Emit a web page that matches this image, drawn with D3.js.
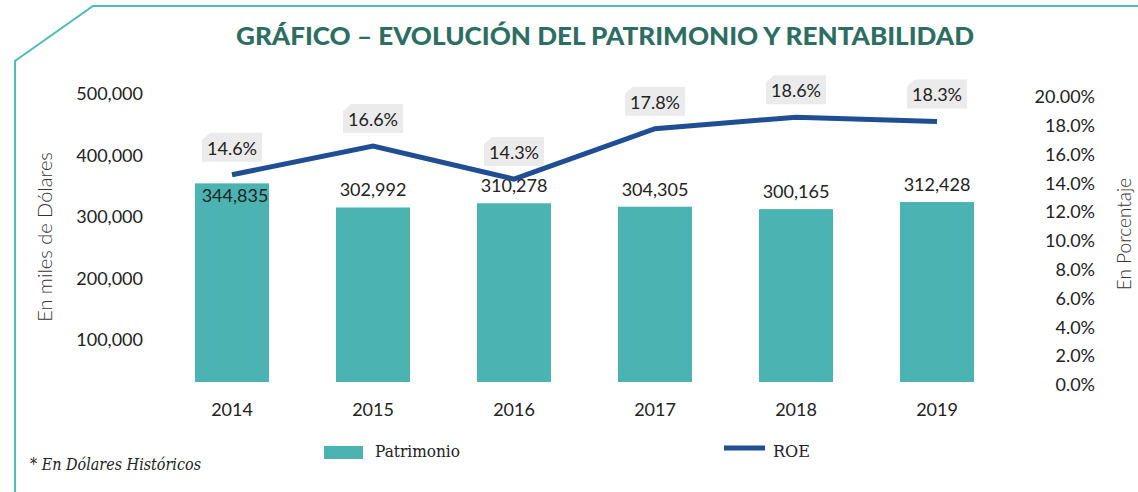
<!DOCTYPE html>
<html>
<head>
<meta charset="utf-8">
<script src="https://cdn.jsdelivr.net/npm/d3@7"></script>
<style>
  body { margin: 0; background: #fff; }
  svg { display: block; }
  .tick text { font-family: Lato, sans-serif; font-size: 18px; fill: #222; }
</style>
</head>
<body>
<div id="chart"></div>
<script>
// data
var years = ["2014", "2015", "2016", "2017", "2018", "2019"];
var patrimonio = [344835, 302992, 310278, 304305, 300165, 312428];
var roe = [0.146, 0.166, 0.143, 0.178, 0.186, 0.183];
var leftTicks = [100000, 200000, 300000, 400000, 500000];
var rightTicks = [0, 0.02, 0.04, 0.06, 0.08, 0.10, 0.12, 0.14, 0.16, 0.18, 0.20];

var width = 1138, height = 492;
var teal = "#4bb4b3", navy = "#1f4e93", titleColor = "#2d6e63";

var svg = d3.select("#chart")
  .append("svg")
  .attr("width", width)
  .attr("height", height);

// frame with the cut corner
svg.append("path")
  .attr("d", "M15,492 L15,61 L93,6 L1138,6")
  .attr("fill", "none")
  .attr("stroke", "#4dbdba")
  .attr("stroke-width", 2);

// title
svg.append("text")
  .attr("x", 605)
  .attr("y", 45)
  .attr("text-anchor", "middle")
  .attr("textLength", 738)
  .attr("lengthAdjust", "spacingAndGlyphs")
  .style("font-family", "Lato, sans-serif")
  .style("font-weight", 900)
  .style("font-size", "25px")
  .style("fill", titleColor)
  .text("GRÁFICO – EVOLUCIÓN DEL PATRIMONIO Y RENTABILIDAD");

// ---------------------------//
//       AXIS  AND SCALE      //
// ---------------------------//
var x = d3.scaleBand()
  .domain(years)
  .range([161.5, 1007.5])
  .paddingInner(0.475)
  .paddingOuter(0.2375);

var y = d3.scaleLinear()
  .domain([0, 500000])
  .range([382, 94]);

// the left labels in the original are spread a bit wider than the bars
var yLabels = d3.scaleLinear()
  .domain([0, 500000])
  .range([401.5, 94]);

var y2 = d3.scaleLinear()
  .domain([0, 0.20])
  .range([385, 97]);

var leftAxis = svg.append("g")
  .attr("transform", "translate(152,0)")
  .call(d3.axisLeft(yLabels).tickValues(leftTicks).tickSize(0).tickPadding(9)
    .tickFormat(d3.format(",")));
leftAxis.select(".domain").remove();

var rightAxis = svg.append("g")
  .attr("transform", "translate(1104,0)")
  .call(d3.axisLeft(y2).tickValues(rightTicks).tickSize(0).tickPadding(9)
    .tickFormat(function(d) { return d >= 0.2 ? "20.00%" : d3.format(".1%")(d); }));
rightAxis.select(".domain").remove();

var bottomAxis = svg.append("g")
  .attr("transform", "translate(0,403)")
  .call(d3.axisBottom(x).tickSize(0).tickPadding(0));
bottomAxis.select(".domain").remove();
bottomAxis.selectAll("text").attr("dy", "0.71em");

// axis titles
svg.append("text")
  .attr("transform", "translate(52,237) rotate(-90)")
  .attr("text-anchor", "middle")
  .style("font-family", "Lato, sans-serif")
  .style("font-weight", 300)
  .style("font-size", "20px")
  .style("fill", "#333")
  .text("En miles de Dólares");

svg.append("text")
  .attr("transform", "translate(1131,234) rotate(-90)")
  .attr("text-anchor", "middle")
  .style("font-family", "Lato, sans-serif")
  .style("font-weight", 300)
  .style("font-size", "19px")
  .style("fill", "#333")
  .text("En Porcentaje");

// ---------------------------//
//       BARS                 //
// ---------------------------//
var rows = years.map(function(d, i) { return { year: d, pat: patrimonio[i], roe: roe[i] }; });

svg.append("g")
  .selectAll("rect")
  .data(rows)
  .enter()
  .append("rect")
  .attr("x", function(d) { return x(d.year); })
  .attr("y", function(d) { return y(d.pat); })
  .attr("width", x.bandwidth())
  .attr("height", function(d) { return y(0) - y(d.pat); })
  .style("fill", teal);

// bar values (first one sits inside the bar)
svg.append("g")
  .selectAll("text")
  .data(rows)
  .enter()
  .append("text")
  .attr("x", function(d, i) { return x(d.year) + x.bandwidth() / 2 + (i === 0 ? 3 : 0); })
  .attr("y", function(d, i) { return i === 0 ? y(d.pat) + 19 : y(d.pat) - 11; })
  .attr("text-anchor", "middle")
  .style("font-family", "Lato, sans-serif")
  .style("font-size", "18px")
  .style("fill", "#222")
  .text(function(d) { return d3.format(",")(d.pat); });

// ---------------------------//
//       ROE LINE             //
// ---------------------------//
var line = d3.line()
  .x(function(d) { return x(d.year) + x.bandwidth() / 2; })
  .y(function(d) { return y2(d.roe); });

svg.append("path")
  .datum(rows)
  .attr("d", line)
  .attr("fill", "none")
  .attr("stroke", navy)
  .attr("stroke-width", 5);

// ROE labels in grey tabs with a clipped corner
var tabs = svg.append("g")
  .selectAll("g")
  .data(rows)
  .enter()
  .append("g")
  .attr("transform", function(d) {
    return "translate(" + (x(d.year) + x.bandwidth() / 2) + "," + (y2(d.roe) - 27) + ")";
  });

tabs.append("path")
  .attr("d", "M-22,-15 L30,-15 L30,14 L-30,14 L-30,-8 Z")
  .style("fill", "#ebebeb");

tabs.append("text")
  .attr("y", 7)
  .attr("text-anchor", "middle")
  .style("font-family", "Lato, sans-serif")
  .style("font-size", "18px")
  .style("fill", "#222")
  .text(function(d) { return d3.format(".1%")(d.roe); });

// ---------------------------//
//       LEGEND               //
// ---------------------------//
svg.append("rect")
  .attr("x", 324).attr("y", 446)
  .attr("width", 39).attr("height", 13)
  .style("fill", teal);

svg.append("text")
  .attr("x", 375).attr("y", 457)
  .style("font-family", "'DejaVu Serif', serif")
  .style("font-size", "16px")
  .style("fill", "#222")
  .attr("textLength", 85)
  .attr("lengthAdjust", "spacingAndGlyphs")
  .text("Patrimonio");

svg.append("line")
  .attr("x1", 724).attr("x2", 765)
  .attr("y1", 448).attr("y2", 448)
  .attr("stroke", navy)
  .attr("stroke-width", 5);

svg.append("text")
  .attr("x", 773).attr("y", 457)
  .style("font-family", "'DejaVu Serif', serif")
  .style("font-size", "16px")
  .style("fill", "#222")
  .attr("textLength", 37)
  .attr("lengthAdjust", "spacingAndGlyphs")
  .text("ROE");

// footnote
svg.append("text")
  .attr("x", 30).attr("y", 470)
  .style("font-family", "'DejaVu Serif', serif")
  .style("font-style", "italic")
  .style("font-size", "17px")
  .style("fill", "#222")
  .attr("textLength", 171)
  .attr("lengthAdjust", "spacingAndGlyphs")
  .text("* En Dólares Históricos");
</script>
</body>
</html>
